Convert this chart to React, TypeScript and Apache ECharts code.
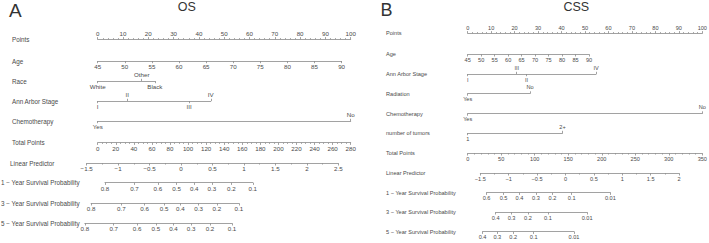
import React, { useEffect, useRef } from 'react';
import * as echarts from 'echarts';

// ---------------- OS panel data ----------------
const osAgeRange = [45, 90];
const osAgePointsAt90 = 96.4;
const osRaceNames = ['White', 'Other', 'Black'];
const osRacePoints = [0, 17.4, 22.6];
const osRaceAbove = [false, true, false];
const osStageNames = ['I', 'II', 'III', 'IV'];
const osStagePoints = [0, 11.7, 36.1, 44.7];
const osStageAbove = [false, true, false, true];
const osChemoNames = ['Yes', 'No'];
const osChemoPoints = [0, 100];
const osChemoAbove = [false, true];
const osTotalRange = [0, 280];
const osLPRange = [-1.5, 2.5];
const osProbNames = ['0.8', '0.7', '0.6', '0.5', '0.4', '0.3', '0.2', '0.1'];
const os1yLP = [-1.21, -0.74, -0.37, -0.07, 0.21, 0.49, 0.8, 1.14];
const os3yLP = [-1.43, -0.95, -0.58, -0.27, -0.01, 0.28, 0.57, 0.92];
const os5yLP = [-1.53, -1.07, -0.7, -0.4, -0.12, 0.16, 0.46, 0.81];

// ---------------- CSS panel data ----------------
const cssAgeRange = [45, 90];
const cssAgePointsAt90 = 51.7;
const cssStageNames = ['I', 'III', 'II', 'IV'];
const cssStagePoints = [0, 20.9, 25.1, 54.7];
const cssStageAbove = [false, true, false, true];
const cssRadNames = ['Yes', 'No'];
const cssRadPoints = [0, 26.6];
const cssRadAbove = [false, true];
const cssChemoNames = ['Yes', 'No'];
const cssChemoPoints = [0, 100];
const cssChemoAbove = [false, true];
const cssTumorNames = ['1', '2+'];
const cssTumorPoints = [0, 40.4];
const cssTumorAbove = [false, true];
const cssTotalRange = [0, 350];
const cssLPRange = [-1.5, 2];
const css1yNames = ['0.6', '0.5', '0.4', '0.3', '0.2', '0.1', '0.01'];
const css1yLP = [-1.39, -1.09, -0.81, -0.52, -0.23, 0.11, 0.79];
const css3yNames = ['0.4', '0.3', '0.2', '0.1', '0.01'];
const css3yLP = [-1.23, -0.95, -0.66, -0.31, 0.38];
const css5yNames = ['0.4', '0.3', '0.2', '0.1', '0.01'];
const css5yLP = [-1.46, -1.2, -0.92, -0.56, 0.15];

const FONT = "'Liberation Sans', Arial, Helvetica, sans-serif";
const TEXT = '#4a4a4a';
const LINE = '#8a8a8a';

type Layout = {
  ptsX0: number; ptsX1: number; lpMin: number; lpX0: number; lpPerUnit: number;
  labelFont: number; tickFont: number;
};

const osLayout: Layout = { ptsX0: 97.7, ptsX1: 350.7, lpMin: -1.5, lpX0: 86.7, lpPerUnit: 62.9, labelFont: 6.3, tickFont: 6.2 };
const cssLayout: Layout = { ptsX0: 467.7, ptsX1: 702.3, lpMin: -1.5, lpX0: 480.3, lpPerUnit: 56.8, labelFont: 5.6, tickFont: 5.6 };

type Row = {
  label: string; labelX: number; y: number;
  kind: 'linear' | 'custom';
  space: 'pts' | 'lp';
  spanPts?: [number, number];
  min: number; max: number;
  interval?: number; minor?: number; top?: boolean;
  ticks?: number[]; names?: string[]; above?: boolean[];
};

const cat = (label: string, labelX: number, y: number, pts: number[], names: string[], above: boolean[]): Row => ({
  label, labelX, y, kind: 'custom', space: 'pts', min: Math.min(...pts), max: Math.max(...pts), ticks: pts, names, above,
});
const prob = (label: string, labelX: number, y: number, lp: number[], names: string[]): Row => ({
  label, labelX, y, kind: 'custom', space: 'lp', min: lp[0], max: lp[lp.length - 1], ticks: lp, names, above: lp.map(() => false),
});

const osRows: Row[] = [
  { label: 'Points', labelX: 12, y: 39.3, kind: 'linear', space: 'pts', spanPts: [0, 100], min: 0, max: 100, interval: 10, minor: 5, top: true },
  { label: 'Age', labelX: 12, y: 61, kind: 'linear', space: 'pts', spanPts: [0, osAgePointsAt90], min: osAgeRange[0], max: osAgeRange[1], interval: 5 },
  cat('Race', 12, 81, osRacePoints, osRaceNames, osRaceAbove),
  cat('Ann Arbor Stage', 12, 101, osStagePoints, osStageNames, osStageAbove),
  cat('Chemotherapy', 12, 121, osChemoPoints, osChemoNames, osChemoAbove),
  { label: 'Total Points', labelX: 12, y: 142.7, kind: 'linear', space: 'pts', spanPts: [0, 100], min: osTotalRange[0], max: osTotalRange[1], interval: 20, minor: 4 },
  { label: 'Linear Predictor', labelX: 10, y: 163.3, kind: 'linear', space: 'lp', min: osLPRange[0], max: osLPRange[1], interval: 0.5, minor: 2 },
  prob('1 − Year Survival Probability', 1, 182.7, os1yLP, osProbNames),
  prob('3 − Year Survival Probability', 1, 203.3, os3yLP, osProbNames),
  prob('5 − Year Survival Probability', 1, 223.3, os5yLP, osProbNames),
];

const cssRows: Row[] = [
  { label: 'Points', labelX: 386, y: 33.3, kind: 'linear', space: 'pts', spanPts: [0, 100], min: 0, max: 100, interval: 10, minor: 5, top: true },
  { label: 'Age', labelX: 386, y: 54.3, kind: 'linear', space: 'pts', spanPts: [0, cssAgePointsAt90], min: cssAgeRange[0], max: cssAgeRange[1], interval: 5 },
  cat('Ann Arbor Stage', 386, 74, cssStagePoints, cssStageNames, cssStageAbove),
  cat('Radiation', 386, 93.5, cssRadPoints, cssRadNames, cssRadAbove),
  cat('Chemotherapy', 386, 113.5, cssChemoPoints, cssChemoNames, cssChemoAbove),
  cat('number of tumors', 386, 133, cssTumorPoints, cssTumorNames, cssTumorAbove),
  { label: 'Total Points', labelX: 386, y: 153.3, kind: 'linear', space: 'pts', spanPts: [0, 100], min: cssTotalRange[0], max: cssTotalRange[1], interval: 50, minor: 5 },
  { label: 'Linear Predictor', labelX: 386, y: 173.3, kind: 'linear', space: 'lp', min: cssLPRange[0], max: cssLPRange[1], interval: 0.5, minor: 2 },
  prob('1 − Year Survival Probability', 386, 192.7, css1yLP, css1yNames),
  prob('3 − Year Survival Probability', 386, 212.3, css3yLP, css3yNames),
  prob('5 − Year Survival Probability', 386, 231.7, css5yLP, css5yNames),
];

const fmtNum = (v: number) => String(Math.round(v * 1000) / 1000).replace('-', '−');

function buildOption() {
  const grid: any[] = [];
  const xAxis: any[] = [];
  const yAxis: any[] = [];
  const graphic: any[] = [];

  const addPanel = (rows: Row[], L: Layout) => {
    const pxPts = (p: number) => L.ptsX0 + (p / 100) * (L.ptsX1 - L.ptsX0);
    const pxLP = (v: number) => L.lpX0 + (v - L.lpMin) * L.lpPerUnit;
    rows.forEach((r) => {
      let x0: number, x1: number;
      if (r.space === 'lp') { x0 = pxLP(r.min); x1 = pxLP(r.max); }
      else if (r.spanPts) { x0 = pxPts(r.spanPts[0]); x1 = pxPts(r.spanPts[1]); }
      else { x0 = pxPts(r.min); x1 = pxPts(r.max); }
      const g = grid.length;
      const topOnly = r.kind === 'linear' && r.top;
      grid.push({ left: x0, width: x1 - x0, top: topOnly ? r.y : r.y - 1, height: 1, outerBoundsMode: 'none', containLabel: false });
      yAxis.push({ type: 'value', gridIndex: g, show: false, min: 0, max: 1 });
      const base = (position: string) => ({
        type: 'value', gridIndex: g, position, min: r.min, max: r.max,
        splitLine: { show: false },
        axisLine: { show: true, onZero: false, lineStyle: { color: LINE, width: 0.8 } },
        axisTick: { show: true, length: 2.2, lineStyle: { color: LINE, width: 0.8 } },
        axisLabel: { show: true, color: TEXT, fontSize: L.tickFont, fontFamily: FONT, margin: 2.5, hideOverlap: false },
      });
      if (r.kind === 'linear') {
        const a: any = base(r.top ? 'top' : 'bottom');
        a.interval = r.interval;
        a.axisLabel.showMinLabel = true;
        a.axisLabel.showMaxLabel = true;
        a.axisLabel.formatter = fmtNum;
        if (r.minor) a.minorTick = { show: true, splitNumber: r.minor, length: 1.3, lineStyle: { color: LINE, width: 0.7 } };
        xAxis.push(a);
      } else {
        const ticks = r.ticks!, names = r.names!, above = r.above!;
        const fmt = (v: number) => {
          let best = 0;
          ticks.forEach((t, i) => { if (Math.abs(t - v) < Math.abs(ticks[best] - v)) best = i; });
          return names[best];
        };
        const below = ticks.filter((_, i) => !above[i]);
        const up = ticks.filter((_, i) => above[i]);
        const b: any = base('bottom');
        b.axisTick.customValues = below;
        b.axisLabel.customValues = below;
        b.axisLabel.formatter = fmt;
        xAxis.push(b);
        if (up.length) {
          const t: any = base('top');
          t.axisLine = { show: false };
          t.axisTick.customValues = up;
          t.axisLabel.customValues = up;
          t.axisLabel.formatter = fmt;
          xAxis.push(t);
        }
      }
      graphic.push({
        type: 'text', x: r.labelX, y: r.y,
        style: { text: r.label, fill: TEXT, fontSize: L.labelFont, fontFamily: FONT, verticalAlign: 'middle', align: 'left' },
      });
    });
  };

  addPanel(osRows, osLayout);
  addPanel(cssRows, cssLayout);

  graphic.push(
    { type: 'text', x: 9, y: 10.4, style: { text: 'A', fill: '#333', fontSize: 19, fontFamily: FONT, verticalAlign: 'middle' } },
    { type: 'text', x: 186.7, y: 6.8, style: { text: 'OS', fill: '#333', fontSize: 12.5, fontFamily: FONT, verticalAlign: 'middle', align: 'center' } },
    { type: 'text', x: 380.5, y: 10.4, style: { text: 'B', fill: '#333', fontSize: 18, fontFamily: FONT, verticalAlign: 'middle' } },
    { type: 'text', x: 576.3, y: 6.8, style: { text: 'CSS', fill: '#333', fontSize: 12.5, fontFamily: FONT, verticalAlign: 'middle', align: 'center' } },
  );

  return { animation: false, backgroundColor: '#ffffff', grid, xAxis, yAxis, graphic, series: [] };
}

export default function App() {
  const ref = useRef<HTMLDivElement>(null);
  useEffect(() => {
    const chart = echarts.init(ref.current!, null, { renderer: 'svg' });
    chart.setOption(buildOption() as any);
    return () => chart.dispose();
  }, []);
  return <div ref={ref} style={{ position: 'fixed', left: 0, top: 0, width: 709, height: 243 }} />;
}
